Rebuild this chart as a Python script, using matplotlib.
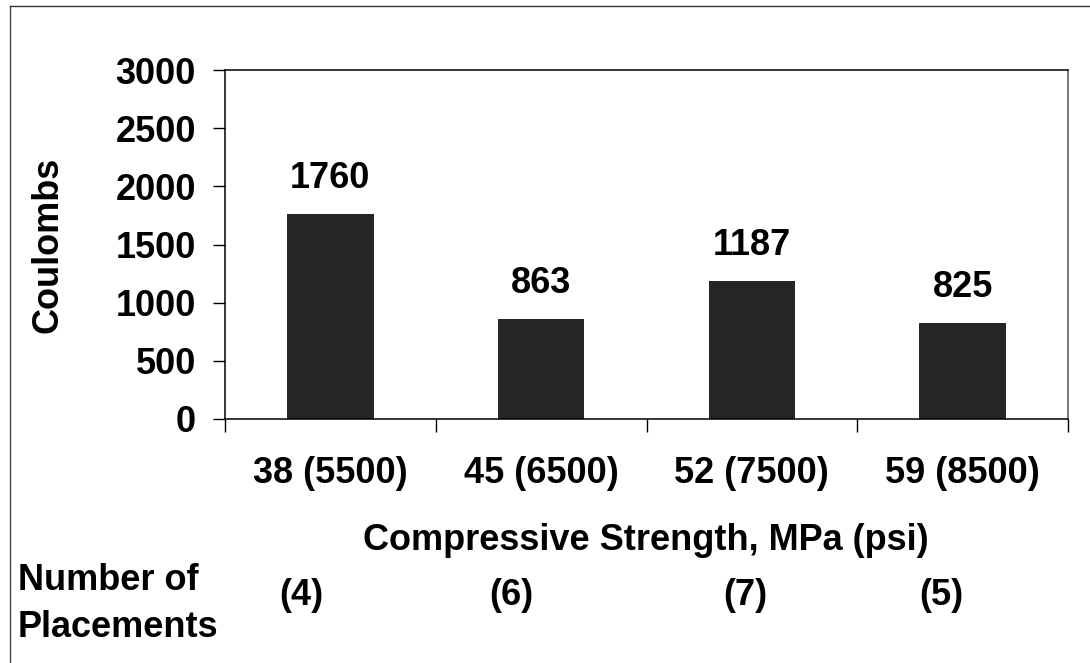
import matplotlib.pyplot as plt
from matplotlib.lines import Line2D

# Data
strength_labels = ['38 (5500)', '45 (6500)', '52 (7500)', '59 (8500)']
coulombs = [1760, 863, 1187, 825]
placements = ['(4)', '(6)', '(7)', '(5)']

plt.rcParams['font.family'] = ['Liberation Sans', 'DejaVu Sans']
plt.rcParams['font.weight'] = 'bold'
FS = 26

W, H = 1090, 663
fig = plt.figure(figsize=(W / 100, H / 100), dpi=100)
ax = fig.add_axes([225 / W, 1 - 419 / H, (1068 - 225) / W, (419 - 70) / H])

x = list(range(len(coulombs)))
ax.bar(x, coulombs, width=0.41, color='#262626', zorder=2)

ax.set_xlim(-0.5, len(coulombs) - 0.5)
ax.set_ylim(0, 3000)
ax.set_yticks(range(0, 3001, 500))
ax.tick_params(axis='y', direction='out', length=9, width=1, pad=12, labelsize=FS)

# category labels sit between boundary ticks
ax.set_xticks([i - 0.5 for i in range(len(coulombs) + 1)])
ax.set_xticklabels([])
ax.tick_params(axis='x', direction='out', length=9, width=1)
for i, lab in enumerate(strength_labels):
    ax.text(i, -0.157, lab, transform=ax.get_xaxis_transform(), ha='center', va='center',
            fontsize=FS, fontweight='bold')

for s in ax.spines.values():
    s.set_linewidth(1.1)
    s.set_color('black')
ax.spines['right'].set_color('#555555')

# value labels above bars
for i, v in enumerate(coulombs):
    ax.annotate(str(v), (i, v), xytext=(0, 13), textcoords='offset points',
                ha='center', va='bottom', fontsize=FS, fontweight='bold')

fig.text(48 / W, 1 - 245 / H, 'Coulombs', rotation=90, ha='center', va='center',
         fontsize=FS, fontweight='bold')

fig.text(646 / W, 1 - 541 / H, 'Compressive Strength, MPa (psi)', ha='center', va='center',
         fontsize=FS, fontweight='bold')

# number of placements row
fig.text(18 / W, 1 - 604 / H, 'Number of\nPlacements', ha='left', va='center',
         fontsize=FS, fontweight='bold', linespacing=1.45)
offsets = [-0.14, -0.14, -0.03, -0.1]
for i, p in enumerate(placements):
    ax.text(i + offsets[i], -0.507, p, transform=ax.get_xaxis_transform(), ha='center',
            va='center', fontsize=FS, fontweight='bold')

# outer frame (left and top edges)
fig.add_artist(Line2D([10 / W, 10 / W], [0, 1 - 6 / H], transform=fig.transFigure,
                      color='#444444', lw=1))
fig.add_artist(Line2D([10 / W, 1], [1 - 6 / H, 1 - 6 / H], transform=fig.transFigure,
                      color='#333333', lw=1))

fig.savefig('out.png', dpi=100)
